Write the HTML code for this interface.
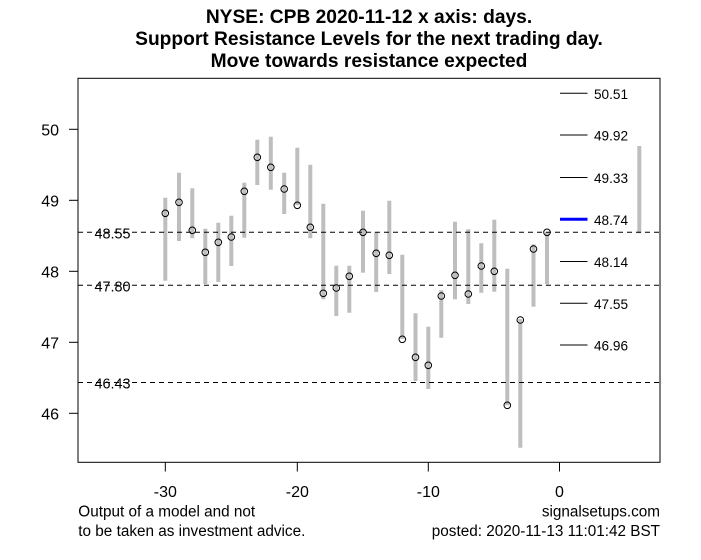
<!DOCTYPE html>
<html><head><meta charset="utf-8"><style>
html,body{margin:0;padding:0;background:#fff;}
svg{display:block;}
text{font-family:"Liberation Sans",Arial,sans-serif;fill:#000;}
</style></head><body>
<svg width="701" height="560" viewBox="0 0 701 560" xmlns="http://www.w3.org/2000/svg">
<rect x="0" y="0" width="701" height="560" fill="#fff"/>
<!-- title -->
<g font-weight="bold" font-size="19.2" text-anchor="middle">
<text x="369" y="23">NYSE: CPB 2020-11-12 x axis: days.</text>
<text x="369" y="45">Support Resistance Levels for the next trading day.</text>
<text x="369" y="67">Move towards resistance expected</text>
</g>
<!-- bars -->
<g stroke="#bebebe" stroke-width="4" fill="none">
<line x1="165.3" y1="197.7" x2="165.3" y2="280.7"/>
<line x1="179" y1="172.7" x2="179" y2="241"/>
<line x1="192.3" y1="188.3" x2="192.3" y2="238.3"/>
<line x1="205.3" y1="228.7" x2="205.3" y2="284"/>
<line x1="218.3" y1="222.7" x2="218.3" y2="282"/>
<line x1="231.3" y1="215.7" x2="231.3" y2="266"/>
<line x1="244.3" y1="182.7" x2="244.3" y2="237.7"/>
<line x1="257.3" y1="139.7" x2="257.3" y2="185"/>
<line x1="270.8" y1="136.7" x2="270.8" y2="189.7"/>
<line x1="284.2" y1="172.7" x2="284.2" y2="214"/>
<line x1="297.3" y1="147.7" x2="297.3" y2="205"/>
<line x1="310.3" y1="164.7" x2="310.3" y2="238.3"/>
<line x1="323.3" y1="203.7" x2="323.3" y2="299.3"/>
<line x1="336.3" y1="265.7" x2="336.3" y2="316"/>
<line x1="349.3" y1="265.7" x2="349.3" y2="312.7"/>
<line x1="363" y1="210.7" x2="363" y2="272.7"/>
<line x1="376.2" y1="232.3" x2="376.2" y2="292"/>
<line x1="389.3" y1="200.7" x2="389.3" y2="274"/>
<line x1="402.3" y1="254.7" x2="402.3" y2="339"/>
<line x1="415.5" y1="313.3" x2="415.5" y2="381"/>
<line x1="428.3" y1="326.7" x2="428.3" y2="389"/>
<line x1="441.3" y1="290.3" x2="441.3" y2="337.7"/>
<line x1="455" y1="221.7" x2="455" y2="299.3"/>
<line x1="468.3" y1="229.3" x2="468.3" y2="304"/>
<line x1="481.3" y1="243.3" x2="481.3" y2="292.7"/>
<line x1="494.3" y1="219.7" x2="494.3" y2="291.7"/>
<line x1="507.3" y1="268.7" x2="507.3" y2="405.3"/>
<line x1="520.3" y1="319" x2="520.3" y2="447.7"/>
<line x1="533.5" y1="244.3" x2="533.5" y2="306.7"/>
<line x1="547" y1="232" x2="547" y2="284.3"/>
<line x1="639.3" y1="146" x2="639.3" y2="233.3"/>
</g>
<!-- close points -->
<g stroke="#000" stroke-width="1" fill="none">
<circle cx="165.3" cy="213.3" r="3.3"/>
<circle cx="179" cy="202.3" r="3.3"/>
<circle cx="192.3" cy="230.3" r="3.3"/>
<circle cx="205.3" cy="252.3" r="3.3"/>
<circle cx="218.3" cy="242.3" r="3.3"/>
<circle cx="231.3" cy="237" r="3.3"/>
<circle cx="244.3" cy="191.3" r="3.3"/>
<circle cx="257.3" cy="157.3" r="3.3"/>
<circle cx="270.8" cy="167.3" r="3.3"/>
<circle cx="284.2" cy="189" r="3.3"/>
<circle cx="297.3" cy="205.3" r="3.3"/>
<circle cx="310.3" cy="227.3" r="3.3"/>
<circle cx="323.3" cy="293.3" r="3.3"/>
<circle cx="336.3" cy="288" r="3.3"/>
<circle cx="349.3" cy="276.3" r="3.3"/>
<circle cx="363" cy="232.3" r="3.3"/>
<circle cx="376.2" cy="253.3" r="3.3"/>
<circle cx="389.3" cy="255.3" r="3.3"/>
<circle cx="402.3" cy="339.3" r="3.3"/>
<circle cx="415.5" cy="357.3" r="3.3"/>
<circle cx="428.3" cy="365.3" r="3.3"/>
<circle cx="441.3" cy="296" r="3.3"/>
<circle cx="455" cy="275.3" r="3.3"/>
<circle cx="468.3" cy="294" r="3.3"/>
<circle cx="481.3" cy="266" r="3.3"/>
<circle cx="494.3" cy="271.3" r="3.3"/>
<circle cx="507.3" cy="405.3" r="3.3"/>
<circle cx="520.3" cy="320" r="3.3"/>
<circle cx="533.5" cy="249" r="3.3"/>
<circle cx="547" cy="232.3" r="3.3"/>
</g>
<!-- dashed support/resistance lines -->
<g stroke="#000" stroke-width="1" stroke-dasharray="5,4">
<line x1="78" y1="232.3" x2="660" y2="232.3"/>
<line x1="78" y1="285.3" x2="660" y2="285.3"/>
<line x1="78" y1="382.5" x2="660" y2="382.5"/>
</g>
<g font-size="14.4">
<text x="94.5" y="238.3">48.55</text>
<text x="94.5" y="291.3">47.80</text>
<text x="94.5" y="388.5">46.43</text>
</g>
<!-- right levels -->
<g stroke="#000" stroke-width="1">
<line x1="560" y1="93.3" x2="587.5" y2="93.3"/>
<line x1="560" y1="135" x2="587.5" y2="135"/>
<line x1="560" y1="177.5" x2="587.5" y2="177.5"/>
<line x1="560" y1="261.5" x2="587.5" y2="261.5"/>
<line x1="560" y1="303.3" x2="587.5" y2="303.3"/>
<line x1="560" y1="345" x2="587.5" y2="345"/>
</g>
<line x1="560" y1="219.3" x2="587.5" y2="219.3" stroke="#0000ff" stroke-width="3"/>
<g font-size="13.6">
<text x="594" y="98.8">50.51</text>
<text x="594" y="140.5">49.92</text>
<text x="594" y="183">49.33</text>
<text x="594" y="224.8">48.74</text>
<text x="594" y="267">48.14</text>
<text x="594" y="308.8">47.55</text>
<text x="594" y="350.5">46.96</text>
</g>
<!-- box -->
<rect x="78" y="78.3" width="582" height="384" fill="none" stroke="#000" stroke-width="1"/>
<!-- y axis -->
<g stroke="#000" stroke-width="1">
<line x1="69" y1="129.3" x2="78" y2="129.3"/>
<line x1="69" y1="200.3" x2="78" y2="200.3"/>
<line x1="69" y1="271.3" x2="78" y2="271.3"/>
<line x1="69" y1="342.3" x2="78" y2="342.3"/>
<line x1="69" y1="413.3" x2="78" y2="413.3"/>
</g>
<g font-size="16" text-anchor="end">
<text x="59" y="135.3">50</text>
<text x="59" y="206.3">49</text>
<text x="59" y="277.3">48</text>
<text x="59" y="348.3">47</text>
<text x="59" y="419.3">46</text>
</g>
<!-- x axis -->
<g stroke="#000" stroke-width="1">
<line x1="165.3" y1="462.3" x2="165.3" y2="471.5"/>
<line x1="297.3" y1="462.3" x2="297.3" y2="471.5"/>
<line x1="428.3" y1="462.3" x2="428.3" y2="471.5"/>
<line x1="559.5" y1="462.3" x2="559.5" y2="471.5"/>
</g>
<g font-size="16" text-anchor="middle">
<text x="165.3" y="497">-30</text>
<text x="297.3" y="497">-20</text>
<text x="428.3" y="497">-10</text>
<text x="559.5" y="497">0</text>
</g>
<!-- footer -->
<g font-size="15.3">
<text x="78.3" y="516.7">Output of a model and not</text>
<text x="78.3" y="536">to be taken as investment advice.</text>
<text x="660" y="516.7" text-anchor="end">signalsetups.com</text>
<text x="660" y="536" text-anchor="end">posted: 2020-11-13 11:01:42 BST</text>
</g>
</svg>
</body></html>
